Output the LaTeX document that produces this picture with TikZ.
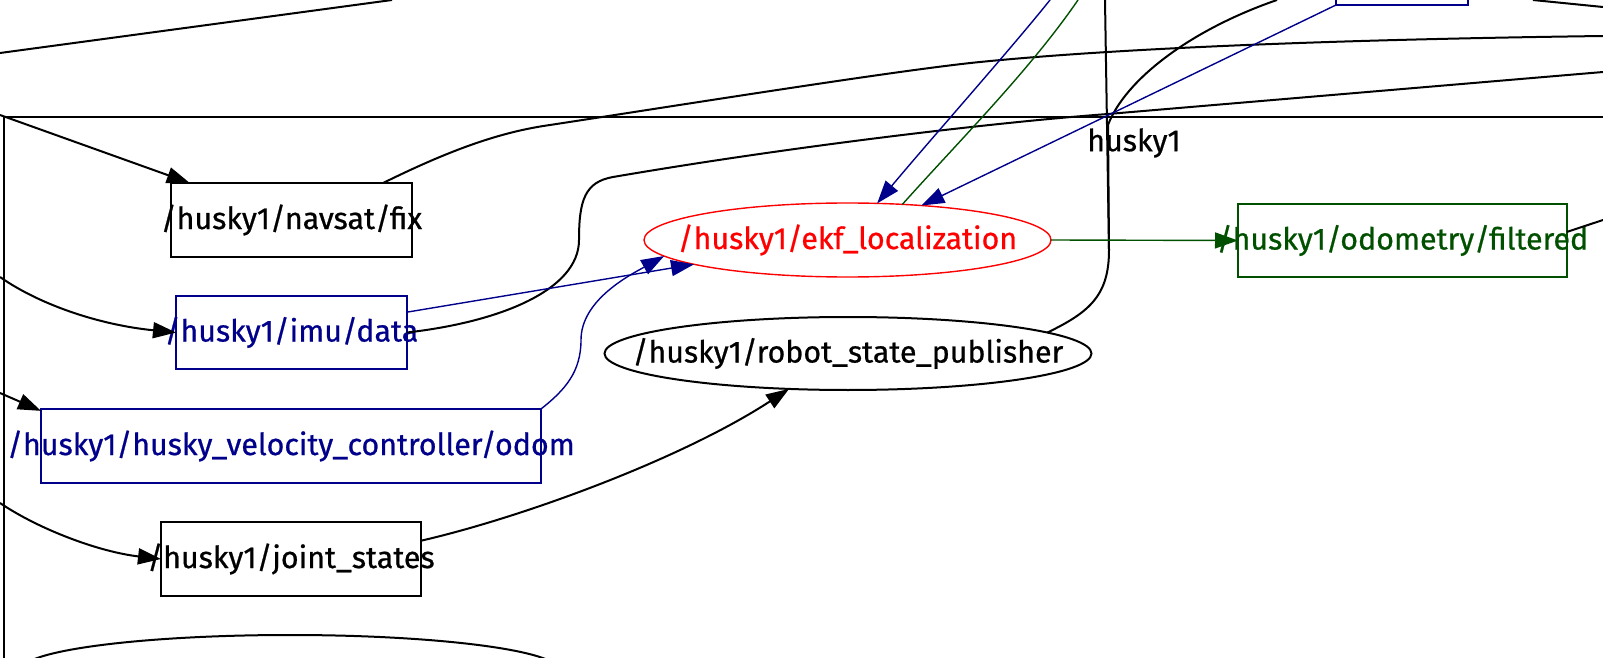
\documentclass[tikz,border=0pt]{standalone}
\usepackage{fontspec}
\setmainfont{Fira Sans}[FakeBold=0.7]
\usetikzlibrary{arrows.meta,shapes.geometric,calc}
\definecolor{ink}{HTML}{000000}
\definecolor{navy}{HTML}{00008B}
\definecolor{forest}{HTML}{005000}
\definecolor{alarm}{HTML}{FF0000}

% label that may run past its box
\newcommand{\lbl}[1]{\makebox[0pt]{#1}}

\begin{document}
\begin{tikzpicture}[x=0.5pt,y=-0.5pt,>={Triangle[length=11.5pt,width=8pt]},
  font=\fontsize{15.2}{18}\selectfont,
  topic/.style={draw,rectangle,inner sep=0pt,outer sep=0pt,line width=1pt},
  rosnode/.style={draw,ellipse,inner sep=0pt,outer sep=0pt,line width=1pt},
  wire/.style={line width=1pt,draw=ink},
  bluewire/.style={line width=0.7pt,draw=navy},
  greenwire/.style={line width=0.7pt,draw=forest}]
  \useasboundingbox (0,0) rectangle (1603,658);

  % Namespace frame
  \draw[wire] (1613,117) -- (4,117) -- (4,668);
  \node (ns) at (1134,143) {husky1};

  % Topics
  \node[topic,minimum width=120.5pt,minimum height=37pt] (navsat) at (291.5,220)
    {\lbl{/husky1/navsat/fix}};
  \node[topic,draw=navy,text=navy,line width=0.7pt,minimum width=115.5pt,
        minimum height=36.5pt] (imu) at (291.5,332.5) {\lbl{/husky1/imu/data}};
  \node[topic,draw=navy,text=navy,line width=0.7pt,minimum width=250pt,
        minimum height=37pt] (velodom) at (291,446)
    {\lbl{/husky1/husky\_velocity\_controller/odom}};
  \node[topic,minimum width=130pt,minimum height=37pt] (joints) at (291,559)
    {\lbl{/husky1/joint\_states}};
  \node[topic,draw=forest,text=forest,line width=0.7pt,minimum width=164.5pt,
        minimum height=36.5pt] (filtered) at (1402.5,240.5)
    {\lbl{/husky1/odometry/filtered}};
  \node[topic,draw=navy,line width=0.7pt,minimum width=66pt,
        minimum height=37.5pt] (upper) at (1402,-32.5) {};

  % Nodes
  \node[rosnode,draw=alarm,text=alarm,line width=0.7pt,minimum width=203.5pt,
        minimum height=37pt] (ekf) at (847.5,240) {\lbl{/husky1/ekf\_localization}};
  \node[rosnode,minimum width=243.5pt,minimum height=36.5pt] (rsp) at (848,353.5)
    {\lbl{/husky1/robot\_state\_publisher}};
  \node[rosnode,minimum width=269pt,minimum height=35pt] (lower) at (290,670) {};

  % Ends outside the frame
  \coordinate (tl-a) at (0,53);
  \coordinate (tl-b) at (392,0);
  \coordinate (fix-src) at (0,115);
  \coordinate (fix-dst) at (1603,36);
  \coordinate (imu-src) at (0,277);
  \coordinate (imu-dst) at (1603,72);
  \coordinate (odom-src) at (0,393);
  \coordinate (js-src) at (0,503);
  \coordinate (filt-dst) at (1603,220);
  \coordinate (tf-top) at (1105,0);
  \coordinate (tf-out) at (1277,0);
  \coordinate (ekf-in) at (1050,0);
  \coordinate (ekf-out) at (1078,0);
  \coordinate (far-a) at (1533,0);
  \coordinate (far-b) at (1603,7);

  \draw[wire] (tl-a) -- (tl-b);
  \draw[wire] (far-a) -- (far-b);

  % Black connectors
  \draw[wire,->] (fix-src) -- (navsat.160.5);
  \draw[wire] (navsat.22.6) .. controls (450,150) and (500,132) .. (550,125)
    .. controls (700,102) and (900,70) .. (980,62)
    .. controls (1100,50) and (1300,40) .. (fix-dst);
  \draw[wire,->] (imu-src) .. controls (40,305) and (100,325) .. (imu.west);
  \draw[wire,->] (odom-src) -- (velodom.172.7);
  \draw[wire,->] (js-src) .. controls (40,530) and (100,552) .. (joints.west);
  \draw[wire] (imu.east) .. controls (500,322) and (579,290) .. (579,240)
    .. controls (579,200) and (585,182) .. (613,177)
    .. controls (800,145) and (1000,122) .. (1108,114) -- (imu-dst);
  \draw[wire,->] (joints.8.7) .. controls (520,518) and (680,460) .. (rsp.211.7);
  \draw[wire] (rsp.6) .. controls (1090,312) and (1109,295) .. (1109,250)
    -- (1108,125) .. controls (1125,80) and (1190,30) .. (tf-out);
  \draw[wire] (tf-top) -- (1109,250);
  \draw[wire] (filtered.3) -- (filt-dst);

  % Coloured connectors
  \draw[bluewire,->] (imu.10.5) -- (ekf.189.2);
  \draw[bluewire,->] (velodom.north east) .. controls (565,390) and (581,372) .. (581,340)
    .. controls (581,300) and (630,275) .. (ekf.185.4);
  \draw[bluewire,->] (upper.south west) -- (ekf.25.5);
  \draw[bluewire,->] (ekf-in) .. controls (1010,50) and (930,140) .. (ekf.51);
  \draw[greenwire] (ekf.33) .. controls (960,140) and (1030,70) .. (ekf-out);
  \draw[greenwire,->] (ekf.east) -- (filtered.west);
\end{tikzpicture}
\end{document}
